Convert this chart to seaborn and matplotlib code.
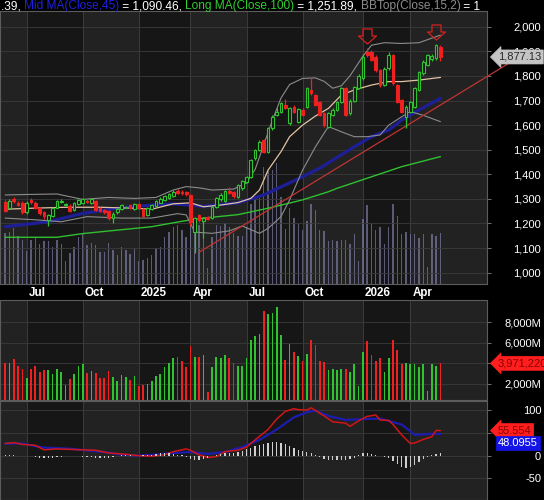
"""Weekly candlestick chart with volume and MACD panes, dark AmiBroker-style theme."""

import matplotlib

matplotlib.use("Agg")

import matplotlib.pyplot as plt
import matplotlib.transforms as mtransforms
from matplotlib.path import Path
import seaborn as sns


# ---- weekly bars (oldest first) ----
OPENS = [1289, 1262, 1300, 1282, 1285, 1245, 1295, 1285, 1262, 1245,
         1215, 1232, 1265, 1286, 1275, 1272, 1255, 1280, 1283, 1292,
         1282, 1290, 1262, 1256, 1250, 1222, 1245, 1258, 1265, 1274,
         1258, 1278, 1260, 1235, 1260, 1272, 1285, 1295, 1305, 1310,
         1332, 1330, 1328, 1316, 1167, 1235, 1212, 1228, 1222, 1268,
         1298, 1293, 1332, 1330, 1309, 1343, 1370, 1390, 1465, 1499,
         1539, 1492, 1587, 1640, 1655, 1682, 1607, 1672, 1614, 1662,
         1675, 1743, 1722, 1695, 1648, 1594, 1641, 1661, 1695, 1749,
         1650, 1700, 1750, 1790, 1898, 1898, 1878, 1824, 1763, 1831,
         1885, 1763, 1702, 1634, 1655, 1675, 1743, 1810, 1845, 1870,
         1871, 1919]
HIGHS = [1295, 1300, 1308, 1290, 1290, 1292, 1305, 1292, 1268, 1250,
         1240, 1268, 1296, 1298, 1285, 1278, 1288, 1300, 1305, 1300,
         1302, 1296, 1268, 1260, 1255, 1245, 1265, 1280, 1272, 1280,
         1284, 1282, 1265, 1268, 1280, 1295, 1306, 1315, 1323, 1336,
         1340, 1335, 1332, 1320, 1228, 1240, 1226, 1232, 1272, 1306,
         1322, 1338, 1348, 1334, 1360, 1378, 1395, 1462, 1504, 1540,
         1545, 1592, 1640, 1668, 1695, 1705, 1675, 1680, 1670, 1668,
         1754, 1790, 1728, 1700, 1652, 1655, 1668, 1700, 1755, 1755,
         1706, 1760, 1806, 1890, 1912, 1905, 1884, 1830, 1836, 1898,
         1890, 1768, 1708, 1680, 1700, 1754, 1822, 1864, 1890, 1888,
         1930, 1925]
LOWS = [1245, 1258, 1285, 1270, 1240, 1240, 1280, 1260, 1236, 1220,
        1190, 1228, 1262, 1282, 1270, 1248, 1250, 1275, 1280, 1283,
        1278, 1250, 1246, 1240, 1215, 1200, 1240, 1255, 1262, 1258,
        1255, 1258, 1228, 1230, 1256, 1268, 1282, 1292, 1300, 1306,
        1320, 1316, 1312, 1190, 1080, 1205, 1140, 1214, 1218, 1262,
        1292, 1288, 1318, 1305, 1304, 1338, 1366, 1386, 1460, 1495,
        1488, 1488, 1582, 1636, 1650, 1665, 1600, 1650, 1610, 1638,
        1670, 1724, 1676, 1636, 1594, 1588, 1636, 1656, 1690, 1636,
        1640, 1695, 1745, 1785, 1878, 1860, 1818, 1756, 1758, 1826,
        1765, 1690, 1650, 1590, 1650, 1670, 1738, 1805, 1840, 1862,
        1866, 1860]
CLOSES = [1250, 1290, 1292, 1275, 1245, 1285, 1288, 1265, 1242, 1232,
          1235, 1262, 1290, 1292, 1278, 1252, 1282, 1295, 1300, 1287,
          1298, 1255, 1250, 1245, 1222, 1240, 1260, 1275, 1268, 1262,
          1278, 1262, 1232, 1262, 1275, 1290, 1300, 1310, 1318, 1330,
          1325, 1322, 1318, 1207, 1222, 1215, 1222, 1220, 1268, 1302,
          1315, 1332, 1322, 1310, 1357, 1374, 1390, 1458, 1499, 1533,
          1492, 1587, 1632, 1654, 1688, 1670, 1668, 1655, 1664, 1642,
          1749, 1729, 1682, 1641, 1600, 1648, 1661, 1695, 1749, 1641,
          1700, 1755, 1800, 1878, 1885, 1865, 1824, 1763, 1830, 1885,
          1770, 1695, 1655, 1675, 1695, 1749, 1817, 1858, 1885, 1880,
          1925, 1877.13]
VOLUME_M = [3960, 4028, 4367, 3756, 3451, 2570, 3417, 3689, 3078, 3350,
            3350, 2909, 3451, 3112, 1824, 2400, 2909, 3689, 3926, 3011,
            3180, 3011, 2502, 2502, 3180, 2672, 2231, 2841, 2638, 2333,
            2773, 1756, 1892, 1994, 2231, 2773, 2909, 3621, 4028, 4468,
            4604, 4197, 3621, 5655, 4604, 4604, 4807, 1214, 3621, 4604,
            4536, 4739, 4468, 3994, 3756, 3756, 4468, 6231, 6672, 6841,
            9113, 8774, 8875, 9452, 6740, 4299, 5892, 5112, 4638, 4197,
            4875, 6231, 5790, 4197, 4129, 3350, 3417, 3350, 3451, 3451,
            3112, 3858, 1756, 5044, 6163, 4773, 4197, 4468, 3112, 4468,
            6231, 5316, 3926, 4028, 3858, 3926, 3587, 3858, 1316, 3926,
            3756, 3971.22]
MACD_HIST = [0.8, 0.8, 0.6, -0.6, -0.8, -1, -1.5, -3, -5, -6,
             -5, -4, -3, -2, -1.5, -1, -1, -1.5, -2, -2.5,
             -3, -4, -5, -6, -4, -2, -1, 0.8, 1, 0.8,
             -0.8, -0.6, 0.8, 1.5, 2.5, 4, 5, 5.5, 5, 4,
             2.5, 1, -3, -7, -9, -10, -8, -5, -1, 2,
             4, 5, 5, 6, 8, 11, 14, 18, 21, 24,
             26, 28, 30, 30, 28, 25, 21, 16, 12, 10,
             8, 5, 2, -3, -7, -10, -10, -9, -10, -9,
             -8, -5, 2, 5, 7, 4, 1, -1, -3, -6,
             -12, -18, -24, -28, -25, -20, -14, -8, -3, 2,
             4, 5]

# indicator lines, read at a handful of bars each
MID_IDX = [0, 6, 14, 22, 30, 34, 39, 43, 46, 50, 54, 57, 59, 61, 64, 66,
           69, 72, 75, 78, 81, 85, 89, 92, 96, 101]
MID_VAL = [1258, 1262, 1266, 1266, 1262, 1258, 1280, 1284, 1268, 1275, 1285,
           1302, 1336, 1417, 1492, 1553, 1600, 1637, 1668, 1722, 1743, 1763,
           1777, 1777, 1783, 1794]
MA45_IDX = [0, 10, 18, 26, 34, 39, 46, 54, 60, 65, 69, 73, 81, 85, 89, 92, 96, 101]
MA45_VAL = [1187, 1207, 1241, 1262, 1275, 1280, 1270, 1284, 1316, 1357, 1390,
            1425, 1512, 1553, 1580, 1621, 1661, 1709]
MA100_IDX = [0, 12, 18, 26, 34, 41, 46, 54, 61, 69, 75, 77, 85, 92, 101]
MA100_VAL = [1144, 1144, 1159, 1173, 1187, 1209, 1222, 1236, 1262, 1296, 1329,
             1343, 1390, 1431, 1472]
BBTOP_IDX = [0, 5, 12, 18, 24, 30, 35, 39, 42, 45, 48, 53, 56, 58, 60, 62, 64,
             66, 69, 72, 74, 76, 78, 80, 83, 85, 88, 92, 96, 101]
BBTOP_VAL = [1316, 1318, 1320, 1298, 1306, 1302, 1306, 1336, 1350, 1345, 1336,
             1340, 1365, 1420, 1520, 1620, 1710, 1765, 1790, 1792, 1778, 1750,
             1760, 1800, 1880, 1925, 1935, 1932, 1935, 1966]
BBBOT_IDX = [0, 8, 13, 19, 27, 34, 40, 42, 44, 48, 52, 55, 59, 61, 64, 66, 69,
             72, 74, 75, 78, 81, 84, 87, 89, 92, 94, 97, 101]
BBBOT_VAL = [1222, 1214, 1207, 1228, 1222, 1222, 1240, 1235, 1165, 1160, 1170,
             1190, 1160, 1180, 1228, 1296, 1417, 1512, 1567, 1594, 1573, 1553,
             1553, 1560, 1600, 1634, 1655, 1640, 1614]
TREND_IDX = [45, 117]
TREND_VAL = [1083, 1853]
SELL_IDX = [84, 100]

MACD_IDX = [0, 2, 4, 7, 9, 12, 15, 18, 21, 24, 27, 31, 34, 37, 39, 42, 43, 45,
            47, 49, 51, 54, 56, 58, 61, 63, 65, 67, 68, 70, 71, 72, 74, 76, 79,
            80, 82, 84, 86, 87, 89, 90, 92, 94, 95, 97, 99, 100, 101]
MACD_VAL = [27, 29, 25, 23, 13, 15, 14, 13, 12, 6, 4, 0, -1, 2, 9, 15, 12, 2,
            -4, -2, 9, 12, 19, 35, 58, 81, 98, 104, 102, 101, 106, 100, 88, 75,
            72, 65, 77, 87, 90, 79, 78, 69, 46, 27, 28, 36, 42, 56, 55.554]
SIGNAL_IDX = [0, 4, 7, 9, 15, 23, 27, 31, 35, 39, 43, 47, 51, 55, 59, 63, 67,
              70, 72, 75, 79, 83, 87, 89, 92, 94, 95, 99, 101]
SIGNAL_VAL = [27, 27, 21, 18, 15.5, 8, 2.4, 0, 2.4, 6, 8, 4, 8, 19, 35, 58, 85,
              96, 100, 88, 79, 81, 82, 77, 69, 54, 46, 48.5, 48.0955]

QUARTER_IDX = [5, 18, 31, 43, 56, 69, 83, 94]
QUARTER_LABELS = ["Jul", "Oct", "2025", "Apr", "Jul", "Oct", "2026", "Apr"]

PRICE_TICKS = list(range(1000, 2001, 100))
VOLUME_TICKS = [2000, 4000, 6000, 8000]
MACD_TICKS = [-50, 0, 50, 100]
# labels that sit under the last-value tags are hidden there
VOLUME_LABELS = ["2,000M", "", "6,000M", "8,000M"]
MACD_LABELS = ["-50", "0", "", "100"]

HEADER = [(".39, ", "white"), ("Mid MA(Close,45)", "#2020e0"),
          (" = 1,090.46, ", "white"), ("Long MA(Close,100)", "#30d030"),
          (" = 1,251.89, ", "white"), ("BBTop(Close,15,2)", "#8c8c8c"),
          (" = 1", "white")]

# ---- styling ----
W, H = 544, 500
XMIN, XMAX = -1.2, 111.8
BANDS = ["#222222", "#161616"]
GRID = "#3a3a3a"
SPINE = "#5c5c5c"
UP, DOWN = "#2fc42f", "#ee2020"
FONT = ["Liberation Sans", "DejaVu Sans"]


def rect(x0, y0, x1, y1):
    """Pixel box (y measured from the top) to figure fraction."""
    return [x0 / W, 1 - y1 / H, (x1 - x0) / W, (y1 - y0) / H]


def style_panel(ax, ticks, labels, ylim):
    ax.set_xlim(XMIN, XMAX)
    ax.set_ylim(*ylim)
    ax.yaxis.tick_right()
    ax.set_yticks(ticks, labels)
    ax.tick_params(axis="y", length=3, width=0.6, color="#808080",
                   labelcolor="white", labelsize=8, pad=36)
    plt.setp(ax.get_yticklabels(), ha="right")
    ax.tick_params(axis="x", length=0, labelbottom=False)
    for t in ticks:
        ax.axhline(t, color=GRID, lw=0.6, zorder=0.6)
    for side in ax.spines.values():
        side.set_color(SPINE)
        side.set_linewidth(0.8)
    ax.set_xlabel("")
    ax.set_ylabel("")


def shade(ax):
    edges = [XMIN] + QUARTER_IDX + [XMAX]
    for k in range(len(edges) - 1):
        ax.axvspan(edges[k], edges[k + 1], color=BANDS[k % 2], lw=0, zorder=0)
    for t in QUARTER_IDX:
        ax.axvline(t, color="#404040", lw=0.6, zorder=0.5)


def tag(ax, y, text, face, color, shape="larrow", dy=0.0):
    trans = mtransforms.blended_transform_factory(ax.transAxes, ax.transData)
    trans = trans + mtransforms.ScaledTranslation(0, dy / 100, ax.figure.dpi_scale_trans)
    ax.text(1.0226, y, text, transform=trans, fontsize=8, color=color,
            va="center", ha="left", clip_on=False, zorder=10,
            bbox=dict(boxstyle=f"{shape},pad=0.18", fc=face, ec=face, lw=0.5))


def sell_marker():
    verts = [(-4.5, 7.5), (4.5, 7.5), (4.5, 0.5), (9, 0.5), (0, -7.5),
             (-9, 0.5), (-4.5, 0.5), (-4.5, 7.5)]
    codes = [Path.MOVETO] + [Path.LINETO] * 6 + [Path.CLOSEPOLY]
    return Path(verts, codes)


def main():
    sns.set_style("dark")
    plt.rcParams["font.family"] = FONT

    n = len(CLOSES)
    idx = list(range(n))
    up = [c >= o for o, c in zip(OPENS, CLOSES)]
    colors = [UP if u else DOWN for u in up]

    fig = plt.figure(figsize=(W / 100, H / 100), dpi=100, facecolor="black")
    ax_bg = fig.add_axes(rect(0, 11, 487, 284))
    ax_p = fig.add_axes(rect(0, 11, 487, 284), sharex=ax_bg)
    ax_v = fig.add_axes(rect(0, 300, 487, 400), sharex=ax_bg)
    ax_m = fig.add_axes(rect(0, 401, 487, 500), sharex=ax_bg)

    # background pane: quarter shading and volume overlay
    shade(ax_bg)
    ax_bg.bar(idx, VOLUME_M, width=0.32, color="#8a8ab8", alpha=0.6, lw=0, zorder=2)
    ax_bg.set_xlim(XMIN, XMAX)
    ax_bg.set_ylim(0, 21240)
    ax_bg.axis("off")

    # price pane
    ax_p.set_facecolor("none")
    style_panel(ax_p, PRICE_TICKS, [f"{t:,}" for t in PRICE_TICKS], (954, 2064))
    sns.lineplot(x=MA100_IDX, y=MA100_VAL, ax=ax_p, color="#30c030", lw=1.0)
    sns.lineplot(x=MA45_IDX, y=MA45_VAL, ax=ax_p, color="#1e1e96", lw=2.3)
    sns.lineplot(x=BBTOP_IDX, y=BBTOP_VAL, ax=ax_p, color="#8c8c8c", lw=0.8)
    sns.lineplot(x=BBBOT_IDX, y=BBBOT_VAL, ax=ax_p, color="#8c8c8c", lw=0.8)
    sns.lineplot(x=MID_IDX, y=MID_VAL, ax=ax_p, color="#e2c2a2", lw=0.9)
    ax_p.plot(TREND_IDX, TREND_VAL, color="#c03434", lw=0.9, clip_on=False, zorder=3)

    ax_p.vlines(idx, LOWS, HIGHS, colors=colors, lw=0.9, zorder=4)
    bottoms = [min(o, c) for o, c in zip(OPENS, CLOSES)]
    heights = [max(abs(c - o), 2) for o, c in zip(OPENS, CLOSES)]
    ax_p.bar(idx, heights, bottom=bottoms, width=0.62,
             color=["#161616" if u else DOWN for u in up],
             edgecolor=colors, lw=0.8, zorder=5)

    ax_p.plot(SELL_IDX, [HIGHS[i] + 50 for i in SELL_IDX], ls="none",
              marker=sell_marker(), ms=13, mfc="none", mec="#d42020", mew=0.9,
              zorder=6)

    ax_p.set_xticks([q + 0.45 for q in QUARTER_IDX], QUARTER_LABELS)
    ax_p.tick_params(axis="x", length=0, pad=2.5, labelbottom=True,
                     labelcolor="white", labelsize=8.4)
    plt.setp(ax_p.get_xticklabels(), ha="left", fontweight="bold")
    tag(ax_p, CLOSES[-1], f"{CLOSES[-1]:,.2f}", "#c4c4c4", "#2a2a2a")

    # volume pane
    shade(ax_v)
    style_panel(ax_v, VOLUME_TICKS, VOLUME_LABELS, (390, 10150))
    ax_v.bar(idx, VOLUME_M, width=0.4, color=colors, lw=0, zorder=3)
    tag(ax_v, VOLUME_M[-1], "3,971,220", "#ff1e1e", "#8a0000")

    # MACD pane
    shade(ax_m)
    style_panel(ax_m, MACD_TICKS, MACD_LABELS, (-98, 121))
    ax_m.bar(idx, MACD_HIST, width=0.3, color="#cfcfcf", lw=0, zorder=3)
    sns.lineplot(x=SIGNAL_IDX, y=SIGNAL_VAL, ax=ax_m, color="#1c1cb0", lw=1.6)
    sns.lineplot(x=MACD_IDX, y=MACD_VAL, ax=ax_m, color="#d01616", lw=1.1)
    tag(ax_m, MACD_VAL[-1], f"{MACD_VAL[-1]:.3f}", "#ff1e1e", "#8a0000")
    tag(ax_m, SIGNAL_VAL[-1], f"{SIGNAL_VAL[-1]:.4f}", "#1414e6", "white",
        shape="square", dy=-9)

    for ax in (ax_p, ax_v, ax_m):
        ax.set_xlim(XMIN, XMAX)
        ax.set_xlabel("")
        ax.set_ylabel("")

    # header line with coloured indicator names
    renderer = fig.canvas.get_renderer()
    x = 1.0
    for text, color in HEADER:
        fig.text(x / W, 1 - 9.5 / H, text, color=color, fontsize=8.6,
                 va="baseline", ha="left")
        probe = fig.text(0, 0, text + "|", fontsize=8.6)
        bar = fig.text(0, 0, "|", fontsize=8.6)
        x += probe.get_window_extent(renderer).width - bar.get_window_extent(renderer).width
        probe.remove()
        bar.remove()

    fig.savefig("out.png", dpi=100, facecolor="black")
    plt.close(fig)


if __name__ == "__main__":
    main()
